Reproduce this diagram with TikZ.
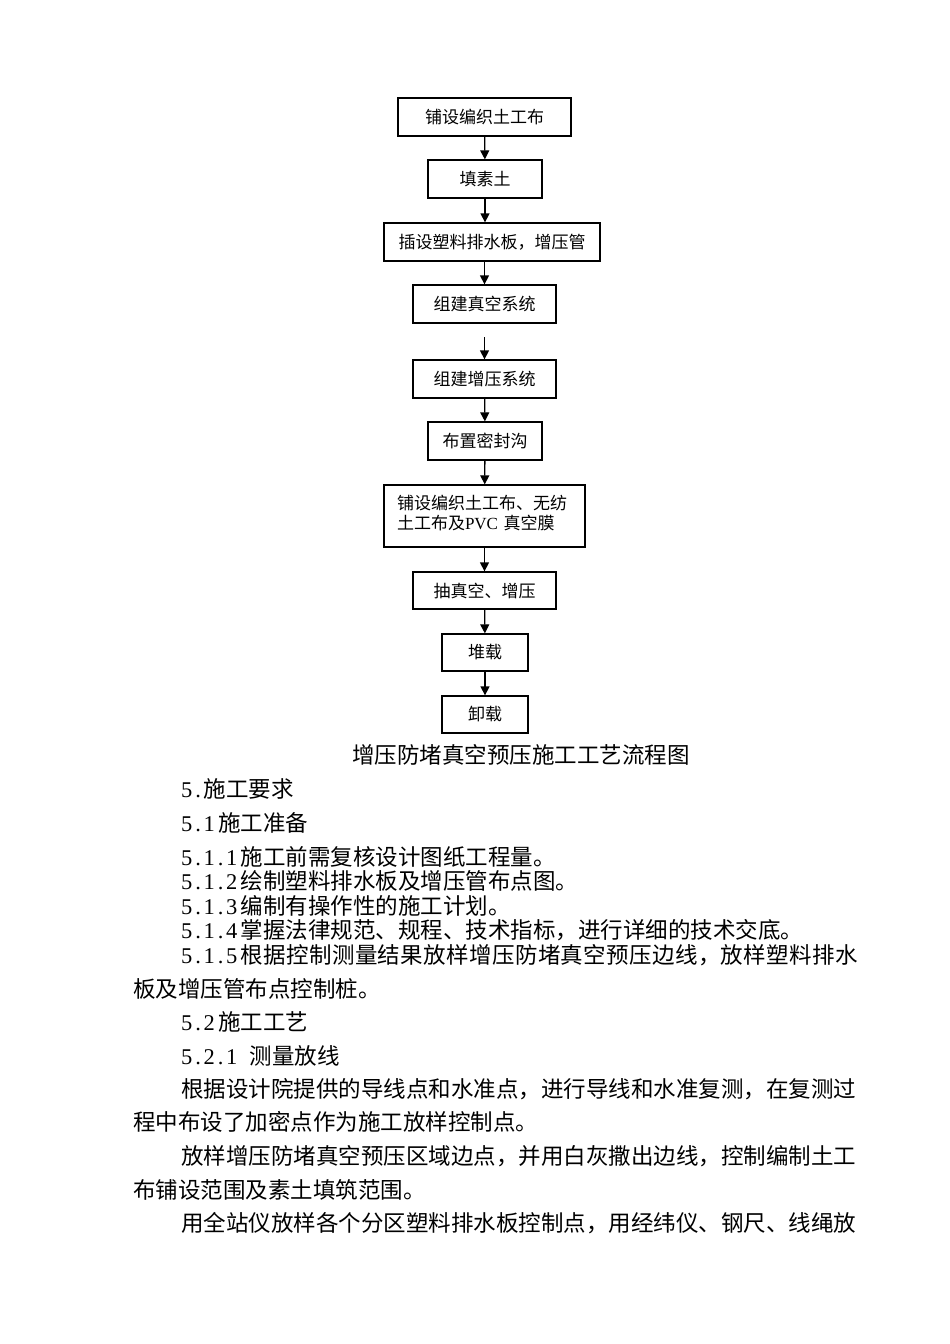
\documentclass[tikz,border=0pt]{standalone}
\usepackage{fontspec}
\usepackage{tikz}
\setmainfont{Liberation Serif}
\newfontfamily\cjk{Noto Sans CJK SC}
\newfontfamily\cjkwide[LetterSpace=1.6]{Noto Sans CJK SC}
\usetikzlibrary{arrows.meta}
% period taking half an em, as in the section numbers
\newcommand\pd{\makebox[0.5em][c]{.}}
\newcommand\nsp{\hspace{0.15em}}

\begin{document}
\begin{tikzpicture}[x=1pt,y=-1pt,
  flowbox/.style={draw,line width=1.3pt,inner sep=0pt,font=\cjk\fontsize{17}{20}\selectfont},
  flowarrow/.style={-{Triangle[length=9pt,width=9pt]},line width=1.3pt},
  bodyline/.style={anchor=west,inner sep=0pt,font=\fontsize{22.5}{27}\selectfont}]
\useasboundingbox (0,0) rectangle (950,1344);
% flow chart
\node[flowbox,minimum width=173pt,minimum height=38pt] (weave) at (484.5,117) {铺设编织土工布};
\node[flowbox,minimum width=114pt,minimum height=38pt] (fill) at (485,179) {填素土};
\node[flowbox,minimum width=216pt,minimum height=38pt] (drain) at (492,242) {插设塑料排水板，增压管};
\node[flowbox,minimum width=143pt,minimum height=38pt] (vacsys) at (484.5,304) {组建真空系统};
\coordinate (gap) at (484.5,337);
\node[flowbox,minimum width=143pt,minimum height=38pt] (boostsys) at (484.5,379) {组建增压系统};
\node[flowbox,minimum width=114pt,minimum height=38pt] (trench) at (485,441) {布置密封沟};
\node[flowbox,minimum width=201pt,minimum height=62pt,text width=175pt,align=left] (membrane) at (484.5,516)
  {铺设编织土工布、无纺\\土工布及{\rmfamily PVC} 真空膜\\[-12pt]\mbox{}};
\node[flowbox,minimum width=143pt,minimum height=37pt] (pump) at (484.5,590.5) {抽真空、增压};
\node[flowbox,minimum width=86pt,minimum height=37pt] (load) at (485,652.5) {堆载};
\node[flowbox,minimum width=86pt,minimum height=37pt] (unload) at (485,714.5) {卸载};
\draw[flowarrow] (weave) -- (fill);
\draw[flowarrow] (fill) -- (fill |- drain.north);
\draw[flowarrow] (drain.south -| vacsys) -- (vacsys);
\draw[flowarrow] (gap) -- (boostsys);
\draw[flowarrow] (boostsys) -- (trench);
\draw[flowarrow] (trench) -- (membrane);
\draw[flowarrow] (membrane) -- (pump);
\draw[flowarrow] (pump) -- (load);
\draw[flowarrow] (load) -- (unload);
\node[inner sep=0pt,font=\cjk\fontsize{22.5}{27}\selectfont] (caption) at (521,755) {增压防堵真空预压施工工艺流程图};
% text below
\node[bodyline] (s5) at (181,789) {5\pd\cjk 施工要求};
\node[bodyline] (s51) at (181,823) {5\pd 1\nsp\cjk 施工准备};
\node[bodyline] (s511) at (181,857) {5\pd 1\pd 1\nsp\cjk 施工前需复核设计图纸工程量。};
\node[bodyline] (s512) at (181,881) {5\pd 1\pd 2\nsp\cjk 绘制塑料排水板及增压管布点图。};
\node[bodyline] (s513) at (181,906) {5\pd 1\pd 3\nsp\cjk 编制有操作性的施工计划。};
\node[bodyline] (s514) at (181,930) {5\pd 1\pd 4\nsp\cjk 掌握法律规范、规程、技术指标，进行详细的技术交底。};
\node[bodyline] (s515) at (181,955) {5\pd 1\pd 5\nsp\cjkwide 根据控制测量结果放样增压防堵真空预压边线，放样塑料排水};
\node[bodyline] (s515b) at (133,989) {\cjk 板及增压管布点控制桩。};
\node[bodyline] (s52) at (181,1022) {5\pd 2\nsp\cjk 施工工艺};
\node[bodyline] (s521) at (181,1056) {5\pd 2\pd 1\hspace{0.55em}\cjk 测量放线};
\node[bodyline] (p1a) at (181,1089) {\cjk 根据设计院提供的导线点和水准点，进行导线和水准复测，在复测过};
\node[bodyline] (p1b) at (133,1122) {\cjk 程中布设了加密点作为施工放样控制点。};
\node[bodyline] (p2a) at (181,1156) {\cjk 放样增压防堵真空预压区域边点，并用白灰撒出边线，控制编制土工};
\node[bodyline] (p2b) at (133,1190) {\cjk 布铺设范围及素土填筑范围。};
\node[bodyline] (p3a) at (181,1223) {\cjk 用全站仪放样各个分区塑料排水板控制点，用经纬仪、钢尺、线绳放};
\end{tikzpicture}
\end{document}
